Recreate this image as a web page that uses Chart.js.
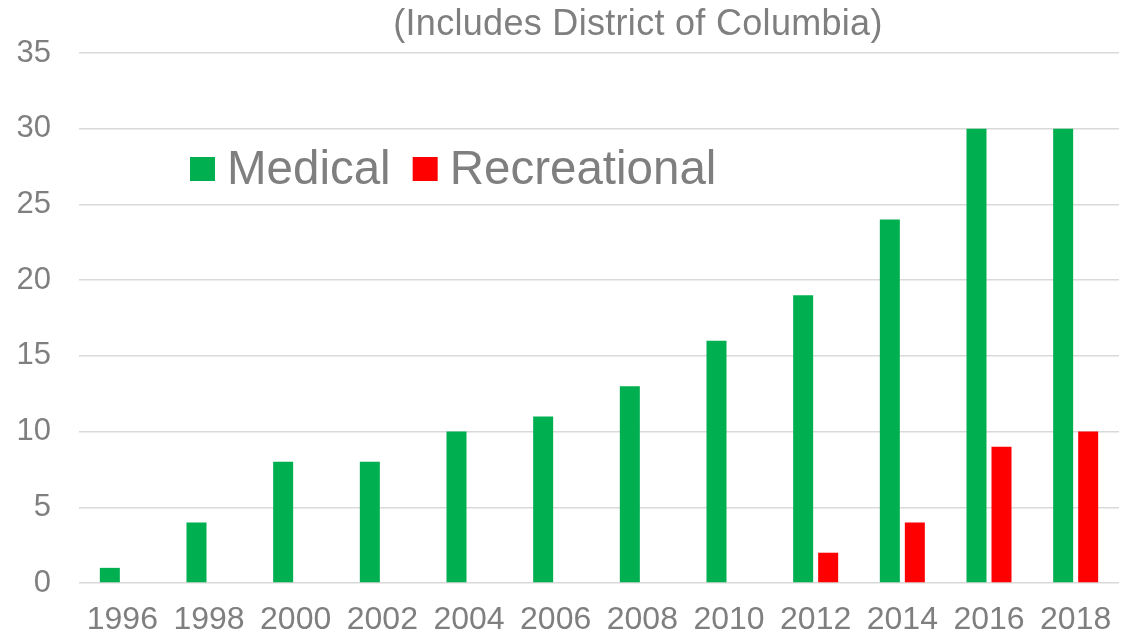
<!DOCTYPE html>
<html>
<head>
<meta charset="utf-8">
<script src="https://cdn.jsdelivr.net/npm/chart.js@4.4.0/dist/chart.umd.min.js"></script>
<style>
  html, body { margin: 0; padding: 0; background: #fff; }
  #wrap { width: 1130px; height: 635px; position: relative; }
</style>
</head>
<body>
<div id="wrap"><canvas id="statesChart"></canvas></div>
<script>
// States with legal marijuana laws, by year
const years = ['1996', '1998', '2000', '2002', '2004', '2006', '2008', '2010', '2012', '2014', '2016', '2018'];
const medical = [1, 4, 8, 8, 10, 11, 13, 16, 19, 24, 30, 30];
const recreational = [0, 0, 0, 0, 0, 0, 0, 0, 2, 4, 9, 10];
const yTicks = [0, 5, 10, 15, 20, 25, 30, 35];
const titleText = '(Includes District of Columbia)';

const textGrey = '#7f7f7f';
const fontFamily = '"Liberation Sans", Arial, sans-serif';

// title + in-plot legend drawn by hand so they can sit where the original has them
const decorations = {
    id: 'decorations',
    afterDraw(chart) {
        const ctx = chart.ctx;
        const area = chart.chartArea;
        ctx.save();

        // title
        ctx.font = '36px ' + fontFamily;
        ctx.fillStyle = textGrey;
        ctx.textAlign = 'center';
        ctx.textBaseline = 'alphabetic';
        if ('letterSpacing' in ctx) ctx.letterSpacing = '0.3px';
        ctx.fillText(titleText, 638, 35);
        if ('letterSpacing' in ctx) ctx.letterSpacing = '0px';

        // legend
        ctx.font = '47.5px ' + fontFamily;
        ctx.textAlign = 'left';
        let x = area.left + 111;
        const boxTop = 157, boxW = 25, boxH = 24, baseline = 184;
        chart.data.datasets.forEach(ds => {
            ctx.fillStyle = ds.backgroundColor;
            ctx.fillRect(x, boxTop, boxW, boxH);
            x += boxW + 12;
            ctx.fillStyle = textGrey;
            ctx.fillText(ds.label, x, baseline);
            x += ctx.measureText(ds.label).width + 22;
        });
        ctx.restore();
    }
};

new Chart(document.getElementById('statesChart').getContext('2d'), {
    type: 'bar',
    data: {
        labels: years,
        datasets: [
            {
                label: 'Medical',
                data: medical,
                backgroundColor: '#00B050',
                borderWidth: 0
            },
            {
                label: 'Recreational',
                data: recreational,
                backgroundColor: '#FF0000',
                borderWidth: 0
            }
        ]
    },
    options: {
        responsive: true,
        maintainAspectRatio: false,
        animation: false,
        datasets: {
            bar: {
                barPercentage: 0.8,
                categoryPercentage: 0.577
            }
        },
        layout: {
            padding: { top: 53, right: 11, left: 0, bottom: 0 }
        },
        plugins: {
            legend: { display: false },
            title: { display: false },
            tooltip: { enabled: false }
        },
        scales: {
            x: {
                grid: { display: false, drawTicks: false },
                border: { display: false },
                ticks: {
                    color: textGrey,
                    font: { family: fontFamily, size: 32 },
                    padding: 18,
                    maxRotation: 0,
                    autoSkip: false
                },
                afterFit(axis) { axis.height = 52; }
            },
            y: {
                min: 0,
                max: 35,
                afterBuildTicks(axis) {
                    axis.ticks = yTicks.map(v => ({ value: v }));
                },
                grid: {
                    color: '#d9d9d9',
                    lineWidth: 1.5,
                    drawTicks: false
                },
                border: { display: false },
                ticks: {
                    color: textGrey,
                    font: { family: fontFamily, size: 31 },
                    padding: 28
                },
                afterFit(axis) { axis.width = 79; }
            }
        }
    },
    plugins: [decorations]
});
</script>
</body>
</html>
